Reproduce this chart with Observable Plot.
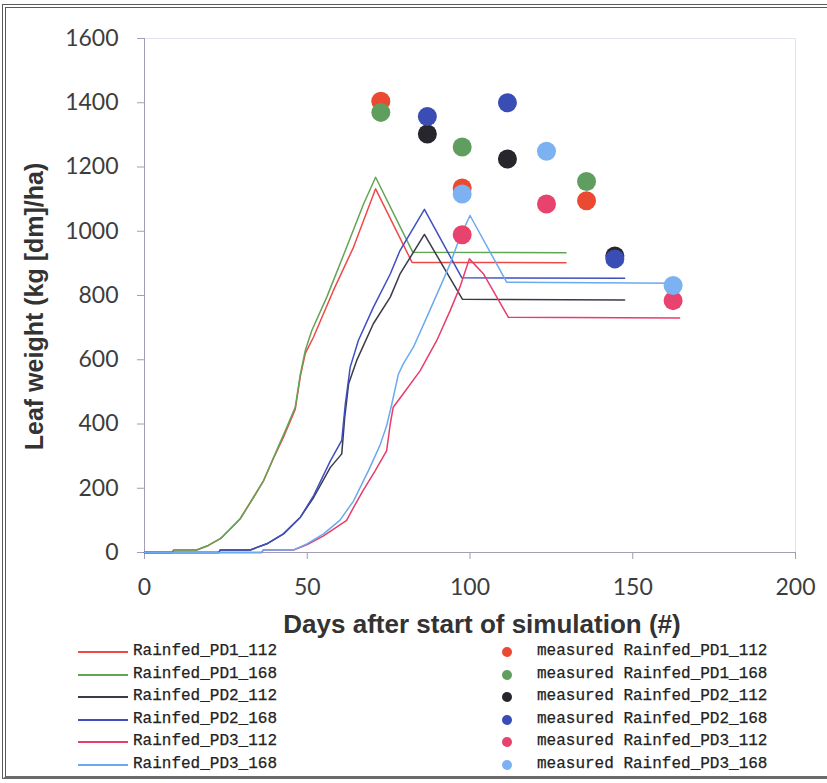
<!DOCTYPE html>
<html><head><meta charset="utf-8">
<script src="https://cdn.jsdelivr.net/npm/d3@7"></script>
<script src="https://cdn.jsdelivr.net/npm/@observablehq/plot@0.6"></script>
<style>
html,body{margin:0;padding:0;background:#fff;overflow:hidden}
#wrap{position:relative;width:827px;height:783px;overflow:hidden}
#frame{position:absolute;left:2px;top:4px;width:900px;height:775px;border-left:4px double #5a5a5a;border-top:4px double #5a5a5a;border-bottom:3px solid #6a6a6a;box-sizing:border-box}
#chart{position:absolute;left:0;top:0}
.lg{position:absolute;font-family:"Liberation Mono",monospace;font-size:16px;color:#222;line-height:20px;white-space:pre;-webkit-text-stroke:0.25px #222}
.sw{position:absolute;height:2px}
.dt{position:absolute;border-radius:50%}
</style></head>
<body><div id="wrap"><div id="frame"></div><div id="chart"></div><div id="legend"></div></div>
<script>
// ---- axis ticks ----
const xTicks = [0, 50, 100, 150, 200];
const yTicks = [0, 200, 400, 600, 800, 1000, 1200, 1400, 1600];
const xTitle = "Days after start of simulation (#)";
const yTitle = "Leaf weight (kg [dm]/ha)";

// ---- simulated series (days, leaf weight) ----
const pd1_112_days   = [0, 8.5, 9, 16, 19.6, 23.3, 26, 29.4, 33.5, 36.6, 39.7, 42.7, 46.3, 47.9, 49.4, 51.9, 58, 64.2, 71, 82.2, 129.5];
const pd1_112_values = [0, 0, 8, 8, 22, 43, 70, 105, 172, 224, 295, 359, 445, 550, 620, 670, 815, 950, 1132, 903, 902];
const pd1_168_days   = [0, 8.5, 9, 16, 19.6, 23.3, 26, 29.4, 33.5, 36.6, 39.7, 43.3, 46.3, 47.9, 49.4, 51.4, 56, 61.7, 67.3, 71, 82.4, 129.5];
const pd1_168_values = [0, 0, 8, 8, 22, 43, 70, 105, 172, 224, 297, 380, 452, 556, 629, 691, 795, 940, 1085, 1168, 935, 933];
const pd2_112_days   = [0, 22.8, 23.3, 32.5, 37.6, 42.7, 47.9, 52, 57.1, 60.6, 61.5, 62.7, 65.2, 70.3, 75.5, 78.5, 86, 97.7, 147.5];
const pd2_112_values = [0, 0, 8, 8, 27, 58, 110, 172, 265, 307, 420, 525, 598, 712, 795, 867, 990, 788, 786];
const pd2_168_days   = [0, 22.8, 23.3, 32.5, 37.6, 42.7, 47.9, 52, 57.1, 60.6, 61.7, 63.2, 65.7, 70.3, 75.5, 78.5, 86, 97.5, 147.5];
const pd2_168_values = [0, 0, 8, 8, 27, 58, 110, 178, 285, 349, 463, 577, 660, 763, 867, 940, 1068, 855, 854];
const pd3_112_days   = [0, 36, 36.5, 45.8, 50, 55, 62.1, 64.2, 67, 70.9, 74.4, 75.5, 76.4, 79.5, 84.7, 89.8, 93.9, 96.9, 99.8, 104.1, 111.8, 164.4];
const pd3_112_values = [0, 0, 8, 8, 25, 52, 100, 140, 190, 255, 317, 400, 452, 494, 566, 660, 753, 826, 914, 868, 732, 730];
const pd3_168_days   = [0, 36, 36.5, 45.8, 49.9, 55, 60, 64.2, 68.8, 72.4, 74.4, 76, 78, 79.5, 82.6, 86.7, 90.8, 93.9, 96.9, 100, 111.3, 164];
const pd3_168_values = [0, 0, 8, 8, 27, 58, 100, 160, 255, 335, 395, 463, 555, 587, 639, 732, 826, 899, 981, 1049, 841, 838];

// ---- measured series ----
const m_pd1_112_days = [72.6, 97.6, 135.8];   const m_pd1_112_values = [1405, 1135, 1095];
const m_pd1_168_days = [72.6, 97.6, 135.8];   const m_pd1_168_values = [1370, 1262, 1155];
const m_pd2_112_days = [86.9, 111.5, 144.5];  const m_pd2_112_values = [1303, 1225, 923];
const m_pd2_168_days = [86.9, 111.5, 144.5];  const m_pd2_168_values = [1357, 1400, 914];
const m_pd3_112_days = [97.6, 123.5, 162.4];  const m_pd3_112_values = [989, 1085, 784];
const m_pd3_168_days = [97.6, 123.5, 162.4];  const m_pd3_168_values = [1116, 1249, 831];

const seriesNames = ["Rainfed_PD1_112","Rainfed_PD1_168","Rainfed_PD2_112","Rainfed_PD2_168","Rainfed_PD3_112","Rainfed_PD3_168"];
const lineColors = ["#f04848","#62a455","#3a3a4a","#3f4fc0","#e83c6c","#6aaaf0"];
const dotColors  = ["#ea4a32","#5f9e5f","#26262c","#3a4db4","#e8426e","#7cb2f2"];

const sim = [
  [pd1_112_days, pd1_112_values],[pd1_168_days, pd1_168_values],
  [pd2_112_days, pd2_112_values],[pd2_168_days, pd2_168_values],
  [pd3_112_days, pd3_112_values],[pd3_168_days, pd3_168_values]];
const meas = [
  [m_pd1_112_days, m_pd1_112_values],[m_pd1_168_days, m_pd1_168_values],
  [m_pd2_112_days, m_pd2_112_values],[m_pd2_168_days, m_pd2_168_values],
  [m_pd3_112_days, m_pd3_112_values],[m_pd3_168_days, m_pd3_168_values]];

const toRows = ([d, v]) => d.map((x, i) => ({day: x, value: v[i]}));

const axisCol = "#a29cb4";
const marks = [
  Plot.frame({stroke: "#e6e3ee"}),
  Plot.ruleY([0], {stroke: axisCol}),
  Plot.ruleX([0], {stroke: axisCol}),
  Plot.axisX({ticks: xTicks, tickSize: 7, tickPadding: 19, stroke: axisCol, fill: "#3d3d3d", fontSize: 23, label: null}),
  Plot.axisY({ticks: yTicks, tickSize: 7, tickPadding: 19, stroke: axisCol, fill: "#3d3d3d", fontSize: 23, label: null, tickFormat: d => String(d)}),
];
sim.forEach((s, i) => marks.push(Plot.line(toRows(s), {x: "day", y: "value", stroke: lineColors[i], strokeWidth: 1.5})));
meas.forEach((s, i) => marks.push(Plot.dot(toRows(s), {x: "day", y: "value", fill: dotColors[i], r: 9.5})));
marks.push(Plot.text([xTitle], {frameAnchor: "bottom", dx: 12, dy: 80, fontSize: 26, fontWeight: "bold", fontFamily: "Liberation Sans", fill: "#333"}));
marks.push(Plot.text([yTitle], {frameAnchor: "left", textAnchor: "middle", dx: -110, dy: 11, rotate: -90, fontSize: 25, fontWeight: "bold", fontFamily: "Liberation Sans", fill: "#333"}));

const chart = Plot.plot({
  width: 827, height: 640,
  marginLeft: 144, marginRight: 32, marginTop: 38, marginBottom: 88,
  x: {domain: [0, 200]},
  y: {domain: [0, 1600]},
  style: {fontFamily: "Lato", background: "transparent", overflow: "visible"},
  marks
});
document.getElementById("chart").appendChild(chart);

// ---- legend ----
const lg = document.getElementById("legend");
seriesNames.forEach((name, i) => {
  const cy = 652 + i * 22.6;
  const sw = document.createElement("div");
  sw.className = "sw";
  sw.style.cssText = `left:78px;top:${Math.round(cy - 1)}px;width:50px;background:${lineColors[i]}`;
  lg.appendChild(sw);
  const t1 = document.createElement("div");
  t1.className = "lg"; t1.textContent = name;
  t1.style.left = "133px"; t1.style.top = (cy - 11) + "px";
  lg.appendChild(t1);
  const dt = document.createElement("div");
  dt.className = "dt";
  dt.style.cssText = `left:${507 - 5}px;top:${cy - 5}px;width:10px;height:10px;background:${dotColors[i]}`;
  lg.appendChild(dt);
  const t2 = document.createElement("div");
  t2.className = "lg"; t2.textContent = "measured " + name;
  t2.style.left = "537px"; t2.style.top = (cy - 11) + "px";
  lg.appendChild(t2);
});
</script></body></html>
